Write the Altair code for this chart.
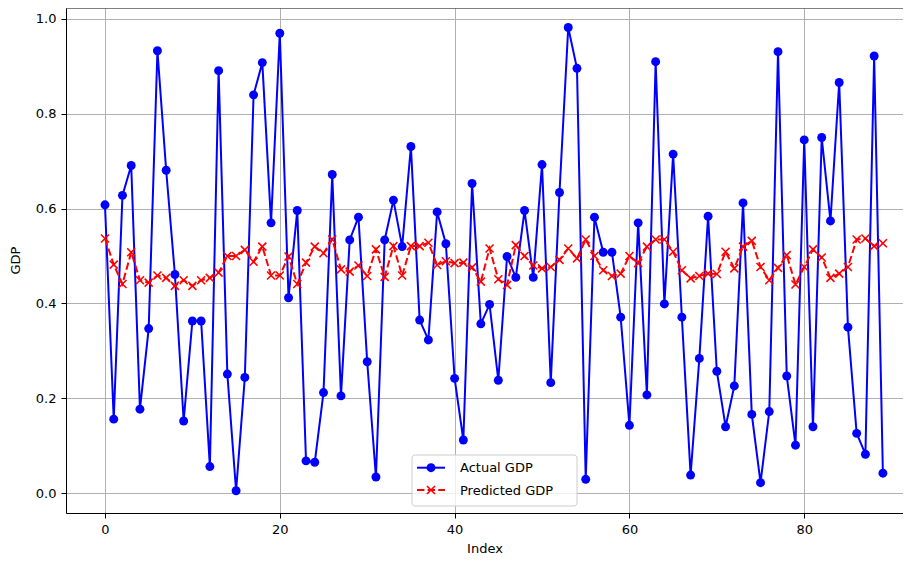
import altair as alt
import pandas as pd

# ---- data ----
index = list(range(90))
actual = [0.608, 0.156, 0.628, 0.691, 0.177, 0.347, 0.933, 0.681, 0.461, 0.152,
          0.363, 0.363, 0.056, 0.891, 0.251, 0.005, 0.244, 0.840, 0.908, 0.570,
          0.970, 0.412, 0.596, 0.068, 0.065, 0.212, 0.672, 0.205, 0.534, 0.582,
          0.277, 0.034, 0.534, 0.618, 0.520, 0.731, 0.365, 0.323, 0.593, 0.526,
          0.242, 0.112, 0.653, 0.357, 0.398, 0.238, 0.499, 0.455, 0.596, 0.455,
          0.693, 0.233, 0.634, 0.982, 0.896, 0.029, 0.582, 0.508, 0.508, 0.371,
          0.143, 0.570, 0.207, 0.910, 0.399, 0.715, 0.371, 0.038, 0.284, 0.584,
          0.257, 0.140, 0.226, 0.612, 0.166, 0.022, 0.172, 0.931, 0.247, 0.101,
          0.745, 0.140, 0.750, 0.574, 0.866, 0.350, 0.126, 0.082, 0.922, 0.042]
predicted = [0.537, 0.482, 0.441, 0.508, 0.449, 0.444, 0.459, 0.454, 0.437, 0.449,
             0.437, 0.449, 0.454, 0.465, 0.500, 0.500, 0.513, 0.488, 0.520, 0.459,
             0.459, 0.499, 0.441, 0.486, 0.520, 0.506, 0.535, 0.472, 0.467, 0.480,
             0.458, 0.514, 0.456, 0.521, 0.459, 0.521, 0.521, 0.528, 0.481, 0.489,
             0.485, 0.486, 0.476, 0.446, 0.516, 0.451, 0.439, 0.523, 0.500, 0.480,
             0.474, 0.477, 0.492, 0.516, 0.495, 0.535, 0.500, 0.470, 0.458, 0.463,
             0.500, 0.485, 0.520, 0.535, 0.535, 0.509, 0.470, 0.453, 0.458, 0.463,
             0.462, 0.509, 0.474, 0.520, 0.532, 0.477, 0.449, 0.475, 0.502, 0.440,
             0.477, 0.514, 0.497, 0.454, 0.463, 0.477, 0.535, 0.537, 0.521, 0.527]
series_names = ["Actual GDP", "Predicted GDP"]
series_colors = ["#0000ff", "#ff0000"]
x_ticks = [0, 20, 40, 60, 80]
y_ticks = [0.0, 0.2, 0.4, 0.6, 0.8, 1.0]

df = pd.DataFrame({
    "Index": index + index,
    "GDP": actual + predicted,
    "series": [series_names[0]] * len(index) + [series_names[1]] * len(index),
})

FONT = "DejaVu Sans"
X_PATH = "M-1,-1L1,1M-1,1L1,-1"
DASH = [7.4, 3.2]

color = alt.Color("series:N", scale=alt.Scale(domain=series_names, range=series_colors), legend=None)

x = alt.X("Index:Q",
          scale=alt.Scale(domain=[-4.46, 91.3], nice=False, zero=False),
          axis=alt.Axis(values=x_ticks, format="d", title="Index",
                        titleY=39, titleBaseline="alphabetic"))
y = alt.Y("GDP:Q",
          scale=alt.Scale(domain=[-0.042, 1.0232], nice=False, zero=False),
          axis=alt.Axis(values=y_ticks, format=".1f", title="GDP",
                        titleX=-51, titleY=252, titleAngle=-90,
                        titleAlign="center", titleBaseline="middle"))

base = alt.Chart(df).encode(x=x, y=y, color=color)
act = base.transform_filter(alt.datum.series == series_names[0])
pred = base.transform_filter(alt.datum.series == series_names[1])

act_line = act.mark_line(strokeWidth=2)
act_pts = act.mark_point(shape="circle", filled=True, size=80, opacity=1)
pred_line = pred.mark_line(strokeWidth=2, strokeDash=DASH)
pred_pts = pred.mark_point(shape=X_PATH, filled=False, size=64, strokeWidth=1.6, opacity=1)

one = pd.DataFrame({"k": [0]})
top_spine = alt.Chart(one).mark_rule(color="#000000", strokeWidth=1).encode(y=alt.value(0))

# ---- legend (matplotlib style, lower centre) ----
LX0, LX1, LY0, LY1 = 346, 511, 447, 498
row_y = [459.7, 482.0]
leg_box = alt.Chart(one).mark_rect(
    fill="#ffffff", fillOpacity=0.8, stroke="#cccccc", strokeWidth=1, cornerRadius=3
).encode(x=alt.value(LX0), x2=alt.value(LX1), y=alt.value(LY0), y2=alt.value(LY1))

leg_layers = [leg_box]
for i, name in enumerate(series_names):
    row = pd.DataFrame({"series": [name]})
    rule_kw = dict(color=series_colors[i], strokeWidth=2)
    if i == 1:
        rule_kw["strokeDash"] = DASH
    leg_layers.append(alt.Chart(row).mark_rule(**rule_kw).encode(
        x=alt.value(351), x2=alt.value(379), y=alt.value(row_y[i])))
    if i == 0:
        leg_layers.append(alt.Chart(row).mark_point(
            shape="circle", filled=True, size=80, color=series_colors[i], opacity=1
        ).encode(x=alt.value(365), y=alt.value(row_y[i])))
    else:
        leg_layers.append(alt.Chart(row).mark_point(
            shape=X_PATH, filled=False, size=64, strokeWidth=1.6, color=series_colors[i], opacity=1
        ).encode(x=alt.value(365), y=alt.value(row_y[i])))
    leg_layers.append(alt.Chart(row).mark_text(
        align="left", baseline="middle", font=FONT, fontSize=13, color="#000000"
    ).encode(x=alt.value(394), y=alt.value(row_y[i] + 0.5), text="series:N"))

chart = alt.layer(act_line, act_pts, pred_line, pred_pts, top_spine, *leg_layers).properties(
    width=837, height=505,
    autosize="none",
    padding={"left": 58, "top": 0, "right": 0, "bottom": 44},
).configure_view(stroke=None).configure_axis(
    domainColor="#000000", domainWidth=1,
    tickColor="#000000", tickSize=5, tickWidth=1,
    labelFont=FONT, labelFontSize=13, labelColor="#000000", labelPadding=5,
    titleFont=FONT, titleFontSize=13, titleFontWeight="normal", titleColor="#000000",
    gridColor="#b0b0b0", gridWidth=1, gridOpacity=1,
)

chart.save("out.html", embed_options={"renderer": "svg", "actions": False})
